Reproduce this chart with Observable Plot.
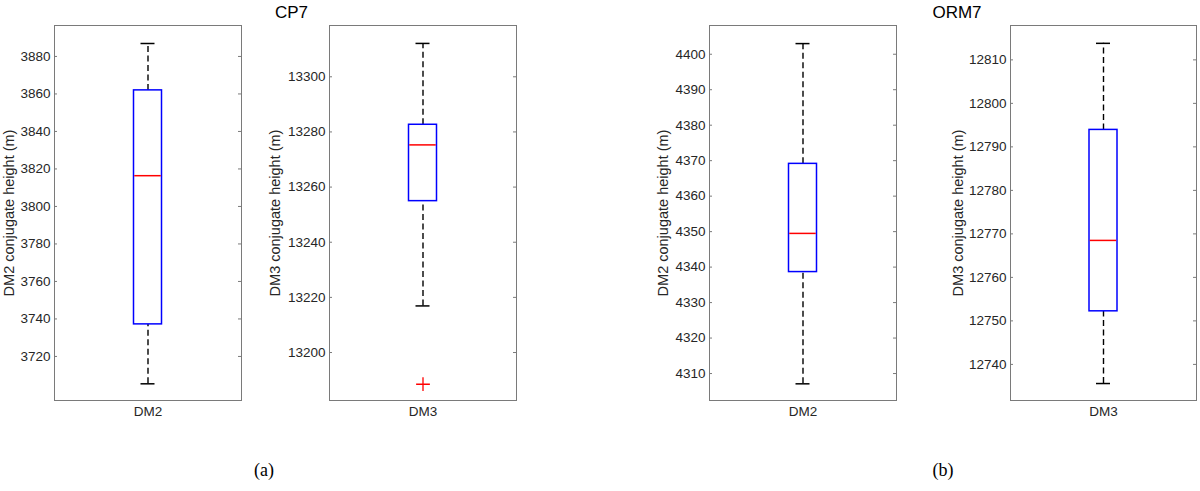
<!DOCTYPE html>
<html>
<head>
<meta charset="utf-8">
<script src="https://cdn.jsdelivr.net/npm/d3@7"></script>
<script src="https://cdn.jsdelivr.net/npm/@observablehq/plot@0.6"></script>
<style>
  html, body { margin: 0; padding: 0; background: #fff; }
  #root { position: relative; width: 1200px; height: 491px; overflow: hidden; font-family: "Liberation Sans", Arial, sans-serif; color: #262626; }
  .panel { position: absolute; top: 0; }
  .lbl { position: absolute; white-space: nowrap; line-height: 1; transform: translateX(-50%); }
  .title { font-family: "Liberation Sans", Arial, sans-serif; font-size: 17px; color: #000; }
  .tag { font-family: "Liberation Serif", "Times New Roman", serif; font-size: 18px; color: #000; }
</style>
</head>
<body>
<div id="root"></div>
<script>
// ---- data ----
const caseNames = ["CP7", "ORM7"];
const caseTags = ["(a)", "(b)"];
const dmNames = ["DM2", "DM3", "DM2", "DM3"];
const yLabels = ["DM2 conjugate height (m)", "DM3 conjugate height (m)", "DM2 conjugate height (m)", "DM3 conjugate height (m)"];
const whiskerLow  = [3705.4, 13216.9, 4307.1, 12735.6];
const quartile1   = [3737.1, 13254.9, 4338.6, 12752.2];
const medians     = [3816.4, 13275.3, 4349.5, 12768.5];
const quartile3   = [3861.9, 13282.6, 4369.1, 12793.9];
const whiskerHigh = [3886.9, 13312.1, 4403.0, 12813.8];
const outliers    = [[], [13188.5], [], []];
const yLimits = [[3696.5, 3896.5], [13182.6, 13318.6], [4302.4, 4408.1], [12731.7, 12817.9]];
const yTicks = [
  [3720, 3740, 3760, 3780, 3800, 3820, 3840, 3860, 3880],
  [13200, 13220, 13240, 13260, 13280, 13300],
  [4310, 4320, 4330, 4340, 4350, 4360, 4370, 4380, 4390, 4400],
  [12740, 12750, 12760, 12770, 12780, 12790, 12800, 12810]
];

// ---- layout ----
const layout = [
  {left: 0,   width: 260, ml: 54, mr: 19, labelDx: -45},
  {left: 260, width: 270, ml: 69, mr: 14, labelDx: -54},
  {left: 640, width: 270, ml: 69, mr: 14, labelDx: -46},
  {left: 940, width: 260, ml: 70, mr: 4,  labelDx: -52}
];
const H = 430, MT = 25, MB = 30;
const frameColor = "#7a7a7a";
const root = document.getElementById("root");

dmNames.forEach((dm, i) => {
  const L = layout[i];
  const fw = L.width - L.ml - L.mr;
  const boxInset = (fw - 28) / 2;
  const capInset = (fw - 14) / 2;
  const row = [{dm, lo: whiskerLow[i], q1: quartile1[i], med: medians[i], q3: quartile3[i], hi: whiskerHigh[i]}];
  const out = outliers[i].map(v => ({dm, v}));
  const chart = Plot.plot({
    width: L.width, height: H,
    marginLeft: L.ml, marginRight: L.mr, marginTop: MT, marginBottom: MB,
    style: {fontFamily: "'Liberation Sans', Arial, sans-serif", fontSize: "13.5px", color: "#262626", background: "transparent", overflow: "visible"},
    x: {type: "band", domain: [dm], padding: 0, label: null},
    y: {domain: yLimits[i], label: null},
    marks: [
      Plot.frame({stroke: frameColor, strokeWidth: 1}),
      Plot.tickY(yTicks[i], {y: d => d, stroke: frameColor, insetRight: fw - 3}),
      Plot.tickY(yTicks[i], {y: d => d, stroke: frameColor, insetLeft: fw - 3}),
      Plot.axisY(yTicks[i], {tickSize: 0, tickPadding: 4, fontSize: 13.5, tickFormat: "d", label: null}),
      Plot.axisX({tickSize: 0, tickPadding: 6, fontSize: 13.5, label: null}),
      Plot.text([yLabels[i]], {text: d => d, frameAnchor: "left", textAnchor: "middle", lineAnchor: "middle", dx: L.labelDx, rotate: -90, fontSize: 14.5, fill: "#262626"}),
      Plot.ruleX(row, {x: "dm", y1: "lo", y2: "q1", stroke: "#000", strokeWidth: 1.4, strokeDasharray: "6,3.5"}),
      Plot.ruleX(row, {x: "dm", y1: "q3", y2: "hi", stroke: "#000", strokeWidth: 1.4, strokeDasharray: "6,3.5"}),
      Plot.tickY(row, {x: "dm", y: "lo", stroke: "#000", strokeWidth: 1.5, insetLeft: capInset, insetRight: capInset}),
      Plot.tickY(row, {x: "dm", y: "hi", stroke: "#000", strokeWidth: 1.5, insetLeft: capInset, insetRight: capInset}),
      Plot.barY(row, {x: "dm", y1: "q1", y2: "q3", fill: "white", stroke: "#0000ff", strokeWidth: 1.5, insetLeft: boxInset, insetRight: boxInset}),
      Plot.tickY(row, {x: "dm", y: "med", stroke: "#ff0000", strokeWidth: 1.5, insetLeft: boxInset + 0.75, insetRight: boxInset + 0.75}),
      Plot.dot(out, {x: "dm", y: "v", symbol: "plus", r: 4.5, stroke: "#ff0000", strokeWidth: 1.3})
    ]
  });
  chart.classList.add("panel");
  chart.style.left = L.left + "px";
  root.appendChild(chart);
});

// titles and tags
const titlePos = [291.5, 957];
const tagPos = [264, 943];
caseNames.forEach((t, k) => {
  const d = document.createElement("div");
  d.className = "lbl title";
  d.style.left = titlePos[k] + "px";
  d.style.top = "3.6px";
  d.textContent = t;
  root.appendChild(d);
  const g = document.createElement("div");
  g.className = "lbl tag";
  g.style.left = tagPos[k] + "px";
  g.style.top = "461px";
  g.textContent = caseTags[k];
  root.appendChild(g);
});
</script>
</body>
</html>
